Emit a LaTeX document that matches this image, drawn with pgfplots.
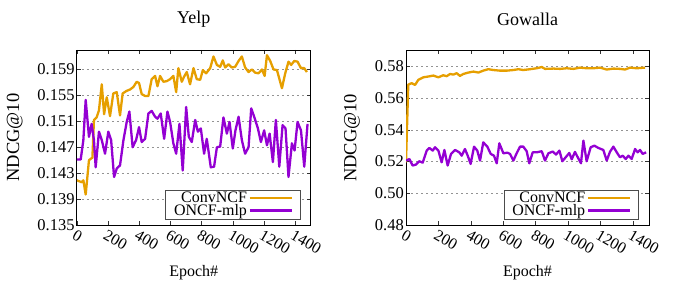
\documentclass[border=0pt]{standalone}
\usepackage{fontspec}
\setmainfont{Liberation Serif}
\usepackage{pgfplots}
\pgfplotsset{compat=1.18}

\definecolor{conv}{HTML}{E69F00}
\definecolor{oncf}{HTML}{9400D3}

\pgfplotsset{
  panel/.style={
    scale only axis,
    anchor=south west,
    xmin=0, xmax=1500,
    xtick={0,200,...,1400},
    tick pos=both,
    tick align=inside,
    major tick length=4pt,
    tick style={line width=0.6pt, black!80},
    axis line style={line width=0.8pt},
    ymajorgrids,
    grid style={gray!85, line width=0.6pt, dash pattern=on 2pt off 3pt},
    /pgf/number format/assume math mode=true,
    /pgf/number format/set thousands separator={},
    yticklabel style={font=\fontsize{16.5}{18}\selectfont, inner sep=2pt},
    xticklabel style={font=\fontsize{16}{18}\selectfont, rotate=-30, anchor=north west, inner sep=1pt, yshift=-3pt, xshift=1pt},
    xlabel style={font=\fontsize{16}{18}\selectfont},
    ylabel style={font=\fontsize{18.5}{20}\selectfont},
    title style={font=\fontsize{18}{20}\selectfont, at={(0.5,1)}, anchor=center, yshift=25pt},
    xlabel={Epoch\#},
    ylabel={NDCG@10},
    xlabel style={at={(axis description cs:0.5,0)}, anchor=center, yshift=-48pt},
    legend plot pos=right,
    legend cell align=right,
    legend image code/.code={\draw[#1] (0pt,0pt) -- (42pt,0pt);},
    legend style={at={(1,0)}, anchor=south east, xshift=-10.8pt, yshift=6pt,
      draw=black!70, fill=white, font=\fontsize{16}{18}\selectfont,
      inner xsep=7pt, inner ysep=0.5pt, row sep=-3pt,
      nodes={inner sep=1.5pt},
      /tikz/every even column/.append style={column sep=6pt}},
  },
  conv line/.style={conv, line width=2.3pt, line join=round},
  oncf line/.style={oncf, line width=2.3pt, line join=round},
}

\begin{document}
\begin{tikzpicture}
\path[use as bounding box] (0,0) rectangle (677pt,283pt);

% Yelp
\begin{axis}[
  panel,
  at={(76.8pt,58pt)},
  width=234pt, height=175pt,
  title={Yelp},
  ymin=0.135, ymax=0.162,
  ytick={0.135,0.139,0.143,0.147,0.151,0.155,0.159},
  yticklabel style={/pgf/number format/fixed, /pgf/number format/precision=3, /pgf/number format/fixed zerofill},
  ylabel style={at={(axis description cs:-0.265,0.5)}, anchor=center},
]
\addplot[conv line] coordinates {
(0,0.1419) (31,0.1416) (42,0.1419) (57,0.1397) (78,0.1450) (100,0.1454) (110,0.1512)
(127,0.1516) (142,0.1527) (160,0.1567) (175,0.1521) (192,0.1547) (213,0.1518)
(234,0.1553) (256,0.1555) (277,0.1519) (294,0.1553) (320,0.1557) (341,0.1559)
(363,0.1563) (384,0.1571) (399,0.1569) (416,0.1552) (438,0.1549) (459,0.1549)
(480,0.1575) (502,0.1580) (517,0.1564) (534,0.1580) (555,0.1571) (577,0.1572)
(598,0.1575) (619,0.1580) (637,0.1555) (651,0.1592) (673,0.1571) (688,0.1579)
(705,0.1586) (726,0.1567) (748,0.1592) (769,0.1575) (791,0.1574) (808,0.1589)
(829,0.1584) (855,0.1592) (876,0.1610) (898,0.1597) (919,0.1594) (936,0.1604)
(951,0.1593) (972,0.1598) (994,0.1593) (1015,0.1594) (1037,0.1603) (1058,0.1610)
(1079,0.1593) (1101,0.1586) (1122,0.1590) (1144,0.1585) (1165,0.1584) (1187,0.1590)
(1204,0.1580) (1219,0.1612) (1240,0.1603) (1261,0.1590) (1283,0.1589) (1315,0.1561)
(1336,0.1584) (1357,0.1602) (1374,0.1597) (1394,0.1603) (1415,0.1602) (1437,0.1592)
(1458,0.1592) (1475,0.1586)
};
\addlegendentry{ConvNCF}
\addplot[oncf line] coordinates {
(0,0.1451) (25,0.1451) (42,0.1481) (57,0.1543) (78,0.1486) (95,0.1506) (110,0.1481)
(121,0.1439) (142,0.1494) (160,0.1481) (181,0.1460) (202,0.1494) (220,0.1481)
(239,0.1424) (256,0.1437) (277,0.1442) (299,0.1481) (320,0.1509) (337,0.1525)
(358,0.1470) (380,0.1481) (399,0.1501) (416,0.1478) (438,0.1483) (459,0.1522)
(480,0.1526) (502,0.1517) (517,0.1514) (538,0.1522) (560,0.1483) (581,0.1525)
(598,0.1509) (619,0.1476) (637,0.1460) (658,0.1506) (679,0.1434) (701,0.1532)
(718,0.1486) (737,0.1478) (759,0.1512) (776,0.1494) (795,0.1499) (816,0.1460)
(833,0.1483) (859,0.1439) (880,0.1440) (898,0.1470) (919,0.1471) (940,0.1516)
(962,0.1491) (979,0.1509) (1000,0.1468) (1017,0.1496) (1037,0.1517) (1058,0.1481)
(1079,0.1460) (1101,0.1470) (1118,0.1530) (1137,0.1517) (1161,0.1499) (1180,0.1478)
(1201,0.1496) (1219,0.1473) (1236,0.1491) (1257,0.1447) (1276,0.1512) (1298,0.1440)
(1319,0.1504) (1338,0.1499) (1357,0.1424) (1379,0.1476) (1396,0.1465) (1415,0.1509)
(1437,0.1496) (1458,0.1440) (1479,0.1506)
};
\addlegendentry{ONCF-mlp}
\end{axis}

% Gowalla
\begin{axis}[
  panel,
  at={(406pt,58pt)},
  width=243pt, height=174.5pt,
  title={Gowalla},
  ymin=0.48, ymax=0.59,
  ytick={0.48,0.50,0.52,0.54,0.56,0.58},
  yticklabel style={/pgf/number format/fixed, /pgf/number format/precision=2, /pgf/number format/fixed zerofill},
  ylabel style={at={(axis description cs:-0.222,0.5)}, anchor=center},
]
\addplot[conv line] coordinates {
(0,0.5195) (14,0.5685) (35,0.5694) (56,0.5683) (76,0.5715) (107,0.5731) (138,0.5736)
(169,0.5742) (200,0.5731) (230,0.5744) (251,0.5738) (272,0.5752) (292,0.5748)
(313,0.5757) (333,0.5740) (354,0.5752) (385,0.5761) (416,0.5767) (447,0.5761)
(477,0.5773) (508,0.5782) (539,0.5777) (580,0.5773) (622,0.5773) (663,0.5777)
(694,0.5782) (724,0.5777) (766,0.5782) (807,0.5788) (838,0.5796) (858,0.5784)
(910,0.5786) (951,0.5784) (992,0.5788) (1033,0.5784) (1074,0.5792) (1115,0.5788)
(1157,0.5788) (1198,0.5792) (1239,0.5780) (1280,0.5786) (1321,0.5784) (1352,0.5780)
(1383,0.5792) (1424,0.5788) (1476,0.5792)
};
\addlegendentry{ConvNCF}
\addplot[oncf line] coordinates {
(0,0.5206) (21,0.5216) (41,0.5175) (62,0.5181) (82,0.5202) (103,0.5193) (128,0.5269)
(144,0.5286) (165,0.5269) (179,0.5290) (200,0.5269) (220,0.5195) (237,0.5273)
(257,0.5175) (278,0.5248) (303,0.5273) (329,0.5258) (344,0.5237) (364,0.5279)
(381,0.5237) (399,0.5185) (420,0.5294) (440,0.5269) (457,0.5206) (477,0.5321)
(502,0.5294) (523,0.5248) (543,0.5237) (560,0.5189) (576,0.5315) (601,0.5252)
(626,0.5256) (642,0.5248) (663,0.5206) (683,0.5252) (704,0.5294) (724,0.5294)
(745,0.5265) (761,0.5189) (782,0.5258) (807,0.5258) (838,0.5265) (858,0.5206)
(879,0.5252) (906,0.5263) (926,0.5244) (947,0.5269) (965,0.5202) (986,0.5227)
(1008,0.5254) (1023,0.5214) (1043,0.5261) (1060,0.5227) (1080,0.5189) (1095,0.5332)
(1115,0.5202) (1140,0.5290) (1163,0.5300) (1187,0.5286) (1218,0.5273) (1239,0.5206)
(1259,0.5261) (1280,0.5294) (1301,0.5258) (1321,0.5227) (1338,0.5237) (1356,0.5216)
(1373,0.5237) (1393,0.5216) (1414,0.5279) (1430,0.5258) (1445,0.5273) (1461,0.5248)
(1482,0.5258)
};
\addlegendentry{ONCF-mlp}
\end{axis}
\end{tikzpicture}
\end{document}
